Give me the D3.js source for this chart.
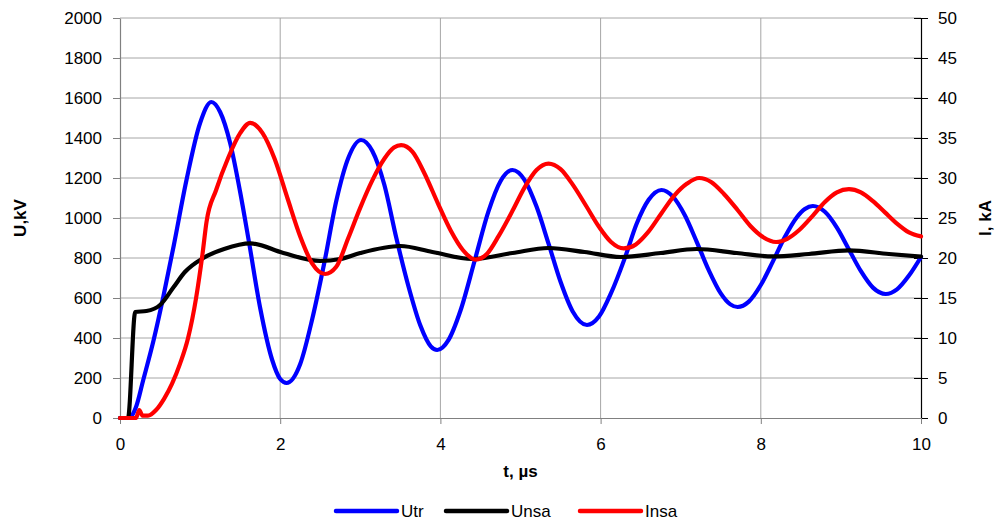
<!DOCTYPE html>
<html>
<head>
  <meta charset="utf-8">
  <script src="https://d3js.org/d3.v7.min.js"></script>
  <style>
    body { margin: 0; background: #fff; }
    text { font-family: Arial, "Liberation Sans", sans-serif; }
    .tick text { font-size: 17px; fill: #000; }
    .axis-title { font-size: 17px; font-weight: bold; }
    .legend text { font-size: 17px; }
  </style>
</head>
<body>
  <script>
    // Utr (kV)
    const utrT = [0, 0.1, 0.13, 0.2, 0.29, 0.42, 0.54, 0.67, 0.83, 1.0, 1.14, 1.25, 1.375, 1.5, 1.61, 1.75, 1.9, 2.0, 2.08, 2.25, 2.4, 2.55, 2.7, 2.85, 3.01, 3.15, 3.3, 3.45, 3.6, 3.75, 3.88, 3.96, 4.1, 4.25, 4.43, 4.6, 4.75, 4.9, 5.05, 5.2, 5.35, 5.5, 5.65, 5.83, 5.98, 6.13, 6.3, 6.45, 6.6, 6.76, 6.9, 7.05, 7.2, 7.35, 7.5, 7.62, 7.71, 7.85, 8.0, 8.15, 8.3, 8.45, 8.55, 8.65, 8.8, 8.95, 9.1, 9.25, 9.4, 9.56, 9.7, 9.85, 10];
    const utrU = [0, 0, 4, 55, 190, 390, 605, 860, 1190, 1475, 1580, 1530, 1375, 1130, 880, 550, 290, 195, 175, 270, 495, 775, 1085, 1300, 1390, 1335, 1166, 900, 660, 462, 358, 340, 389, 536, 790, 1033, 1184, 1240, 1191, 1057, 872, 681, 534, 465, 507, 624, 797, 971, 1091, 1140, 1108, 1015, 881, 739, 623, 568, 555, 582, 665, 782, 905, 1004, 1045, 1060, 1031, 952, 843, 734, 652, 620, 643, 712, 805];

    // Unsa (kV)
    const unsaT = [0, 0.1, 0.19, 0.33, 0.5, 0.67, 0.81, 1.04, 1.3, 1.63, 2.04, 2.5, 2.75, 3.0, 3.5, 3.9, 4.4, 4.9, 5.35, 5.8, 6.25, 6.75, 7.2, 7.7, 8.15, 8.6, 9.1, 9.6, 10];
    const unsaU = [0, 0, 530, 535, 565, 655, 730, 800, 845, 873, 825, 785, 795, 825, 860, 830, 795, 825, 850, 830, 805, 825, 845, 825, 808, 820, 838, 820, 807];

    // Insa (kA)
    const insaT = [0, 0.2, 0.24, 0.28, 0.35, 0.45, 0.55, 0.65, 0.75, 0.85, 0.95, 1.03, 1.08, 1.2, 1.35, 1.5, 1.625, 1.78, 1.93, 2.09, 2.25, 2.4, 2.56, 2.7, 2.85, 3.0, 3.15, 3.3, 3.42, 3.51, 3.65, 3.8, 3.97, 4.13, 4.28, 4.44, 4.58, 4.73, 4.9, 5.05, 5.2, 5.35, 5.5, 5.65, 5.82, 5.98, 6.13, 6.29, 6.44, 6.59, 6.76, 6.92, 7.08, 7.23, 7.38, 7.54, 7.71, 7.87, 8.03, 8.19, 8.33, 8.48, 8.65, 8.8, 8.95, 9.1, 9.25, 9.4, 9.55, 9.7, 9.85, 10];
    const insaI = [0, 0, 1.0, 0.3, 0.3, 1.0, 2.4, 4.3, 6.8, 10, 15, 20.5, 24.5, 28.5, 32.5, 35.6, 36.9, 35.6, 32.4, 27.5, 22.7, 19.3, 18, 18.9, 22.5, 26.3, 29.7, 32.4, 33.8, 34.1, 33.3, 30.6, 26.8, 23.4, 21.0, 19.8, 20.5, 22.8, 25.9, 28.8, 31.0, 31.8, 31.1, 29.2, 26.5, 23.9, 22.0, 21.2, 21.7, 23.2, 25.6, 27.8, 29.3, 30, 29.5, 28.0, 26, 24, 22.6, 22, 22.4, 23.5, 25.3, 27, 28.2, 28.6, 28.2, 27.1, 25.7, 24.3, 23.2, 22.7];

    const tTicks = [0, 2, 4, 6, 8, 10];
    const uTicks = d3.range(0, 2001, 200);
    const iTicks = d3.range(0, 51, 5);

    const seriesNames = ["Utr", "Unsa", "Insa"];
    const seriesColors = ["#0000ff", "#000000", "#ff0000"];

    const width = 1007, height = 527;
    const margin = { top: 18, right: 86, bottom: 109, left: 120 };

    const svg = d3.select("body").append("svg")
      .attr("width", width)
      .attr("height", height);

    const x = d3.scaleLinear().domain([0, 10]).range([margin.left, width - margin.right]);
    const yU = d3.scaleLinear().domain([0, 2000]).range([height - margin.bottom, margin.top]);
    const yI = d3.scaleLinear().domain([0, 50]).range([height - margin.bottom, margin.top]);

    // grid
    svg.append("g")
      .selectAll("line")
      .data(uTicks.slice(1))
      .join("line")
      .attr("x1", x(0)).attr("x2", x(10))
      .attr("y1", d => yU(d)).attr("y2", d => yU(d))
      .attr("stroke", "#a6a6a6").attr("stroke-width", 1);

    svg.append("g")
      .selectAll("line")
      .data(tTicks.slice(1, -1))
      .join("line")
      .attr("x1", d => x(d)).attr("x2", d => x(d))
      .attr("y1", yU(0)).attr("y2", yU(2000))
      .attr("stroke", "#a6a6a6").attr("stroke-width", 1);

    // axes
    const fmt = d3.format("d");
    const leftAxis = svg.append("g")
      .attr("transform", `translate(${x(0)},0)`)
      .call(d3.axisLeft(yU).tickValues(uTicks).tickFormat(fmt).tickSize(7).tickPadding(11).tickSizeOuter(0));
    leftAxis.select(".domain").attr("stroke", "#808080");
    leftAxis.selectAll(".tick line").attr("stroke", "#808080");

    const rightAxis = svg.append("g")
      .attr("transform", `translate(${x(10)},0)`)
      .call(d3.axisRight(yI).tickValues(iTicks).tickFormat(fmt).tickSize(7).tickPadding(10).tickSizeOuter(0));
    rightAxis.selectAll(".tick line").attr("x1", -7);

    const bottomAxis = svg.append("g")
      .attr("transform", `translate(0,${yU(0)})`)
      .call(d3.axisBottom(x).tickValues(tTicks).tickFormat(fmt).tickSize(6).tickPadding(14).tickSizeOuter(0));
    bottomAxis.select(".domain").attr("stroke", "#808080");
    bottomAxis.selectAll(".tick line").attr("stroke", "#808080");

    svg.selectAll(".domain").attr("stroke-width", 1.2);

    // axis titles
    svg.append("text")
      .attr("class", "axis-title")
      .attr("transform", `translate(26,${(yU(0) + yU(2000)) / 2}) rotate(-90)`)
      .attr("text-anchor", "middle")
      .text("U,kV");

    svg.append("text")
      .attr("class", "axis-title")
      .attr("transform", `translate(991,${(yU(0) + yU(2000)) / 2}) rotate(-90)`)
      .attr("text-anchor", "middle")
      .text("I, kA");

    svg.append("text")
      .attr("class", "axis-title")
      .attr("x", (x(0) + x(10)) / 2)
      .attr("y", 477)
      .attr("text-anchor", "middle")
      .text("t, µs");

    // lines
    const lineU = d3.line().x(d => x(d[0])).y(d => yU(d[1])).curve(d3.curveMonotoneX);
    const lineI = d3.line().x(d => x(d[0])).y(d => yI(d[1])).curve(d3.curveMonotoneX);

    const plot = svg.append("g").attr("fill", "none").attr("stroke-width", 4.2)
      .attr("stroke-linejoin", "round").attr("stroke-linecap", "round");

    plot.append("path")
      .attr("stroke", seriesColors[0])
      .attr("d", lineU(d3.zip(utrT, utrU)));

    plot.append("path")
      .attr("stroke", seriesColors[1])
      .attr("d", lineU(d3.zip(unsaT, unsaU)));

    plot.append("path")
      .attr("stroke", seriesColors[2])
      .attr("d", lineI(d3.zip(insaT, insaI)));

    // legend
    const legendX = [336, 446, 580];
    const legend = svg.append("g").attr("class", "legend");
    const item = legend.selectAll("g")
      .data(seriesNames)
      .join("g")
      .attr("transform", (d, i) => `translate(${legendX[i]},511)`);
    item.append("line")
      .attr("x1", 0).attr("x2", 61)
      .attr("stroke", (d, i) => seriesColors[i])
      .attr("stroke-width", 4.5)
      .attr("stroke-linecap", "round");
    item.append("text")
      .attr("x", 65)
      .attr("dy", "0.36em")
      .text(d => d);
  </script>
</body>
</html>
